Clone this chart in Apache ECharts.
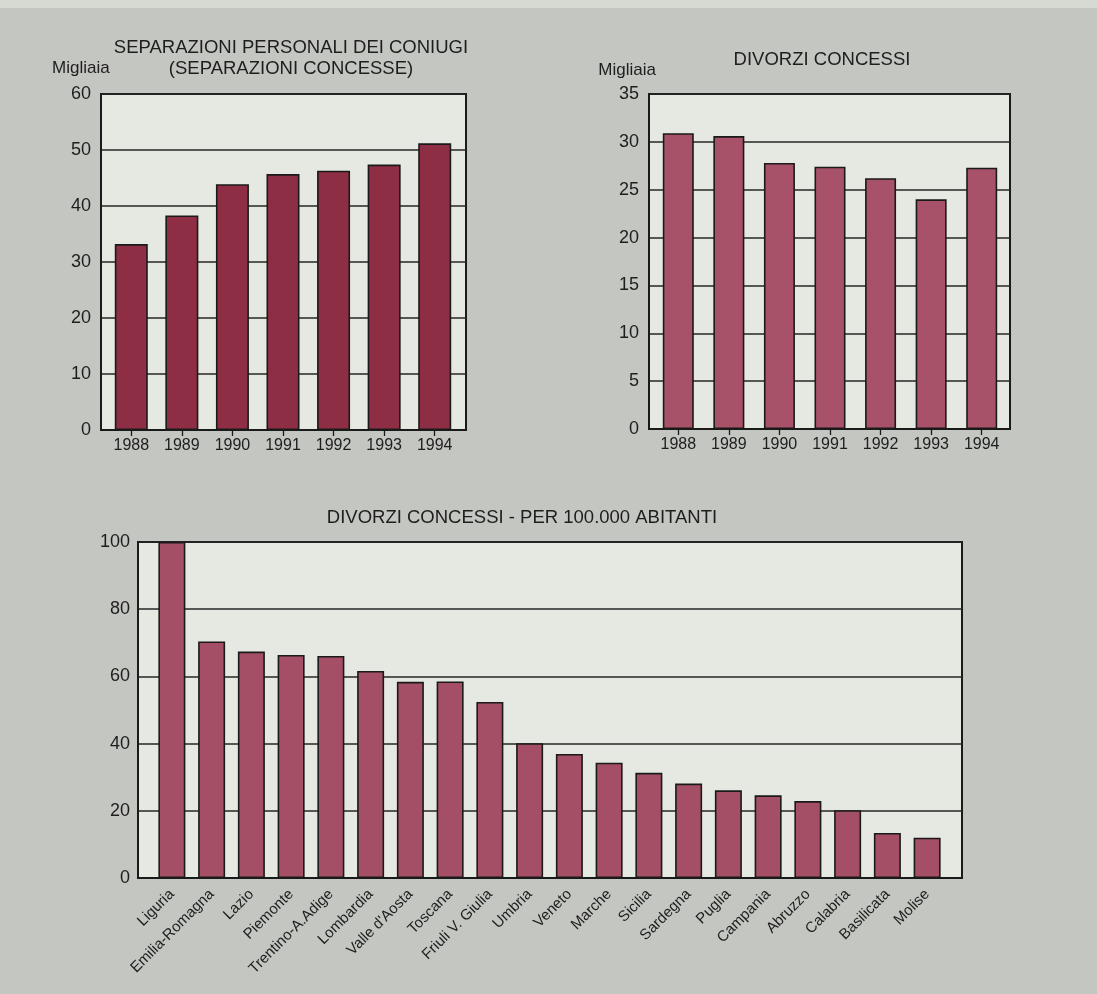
<!DOCTYPE html>
<html>
<head>
<meta charset="utf-8">
<script src="https://cdn.jsdelivr.net/npm/echarts@6/dist/echarts.min.js"></script>
<style>
html,body{margin:0;padding:0;background:#c4c6c1;}
#c{width:1097px;height:994px;}
</style>
</head>
<body>
<div id="c"></div>
<script>
const years = ['1988','1989','1990','1991','1992','1993','1994'];
const separazioni = [33.2, 38.3, 43.9, 45.7, 46.3, 47.4, 51.2];
const divorzi = [30.9, 30.6, 27.8, 27.4, 26.2, 24.0, 27.3];
const regioni = ['Liguria','Emilia-Romagna','Lazio','Piemonte','Trentino-A.Adige','Lombardia',"Valle d'Aosta",'Toscana','Friuli V. Giulia','Umbria','Veneto','Marche','Sicilia','Sardegna','Puglia','Campania','Abruzzo','Calabria','Basilicata','Molise'];
const divorziPer100k = [100, 70.4, 67.4, 66.4, 66.1, 61.6, 58.4, 58.5, 52.4, 40.1, 36.9, 34.3, 31.3, 28.1, 26.1, 24.6, 22.9, 20.2, 13.4, 12.0];

const FONT = '"Liberation Sans", Arial, sans-serif';
const TXT = '#1e1e1e';
const PLOTBG = '#e6e9e1';
const LINE = '#1a1a1a';

// Box grids (frame, gridlines, y labels) and inner grids (category bands)
const boxes = [
  {left:101, top:94, width:365, height:336},
  {left:649, top:94, width:361, height:335},
  {left:138, top:542, width:824, height:336}
];
const inners = [
  {left:106, top:94, width:354, height:336},
  {left:653, top:94, width:354, height:335},
  {left:152, top:542, width:795, height:336}
];
const yScales = [[60,10],[35,5],[100,20]];

const grids = [], xAxes = [], yAxes = [];
boxes.forEach((b,i)=>{
  grids.push(Object.assign({show:true, backgroundColor:PLOTBG, borderColor:LINE, borderWidth:2}, b));
  xAxes.push({type:'value', gridIndex:i, min:0, max:1,
    axisLine:{show:true, onZero:false, lineStyle:{color:LINE, width:2}},
    axisTick:{show:false}, axisLabel:{show:false}, splitLine:{show:false}});
  yAxes.push({type:'value', gridIndex:i, min:0, max:yScales[i][0], interval:yScales[i][1],
    axisLine:{show:true, lineStyle:{color:LINE, width:2}},
    axisTick:{show:false},
    axisLabel:{color:TXT, fontFamily:FONT, fontSize:18, margin: i===2 ? 8 : 10},
    splitLine:{show:true, lineStyle:{color:'#262626', width:1.5}}});
});
const catData = [years, years, regioni];
inners.forEach((g,i)=>{
  grids.push(Object.assign({show:false}, g));
  const gi = 3 + i;
  const rot = i===2;
  xAxes.push({type:'category', gridIndex:gi, data:catData[i],
    axisLine:{show:false},
    axisTick:{show:!rot, alignWithLabel:true, length:6, lineStyle:{color:LINE, width:1.3}},
    axisLabel:{color:TXT, fontFamily:FONT, fontSize: rot ? 15 : 16, rotate: rot ? 45 : 0, margin: rot ? 14 : 8, interval:0},
    splitLine:{show:false}});
  yAxes.push({type:'value', gridIndex:gi, min:0, max:yScales[i][0], interval:yScales[i][1], show:false});
});

function barSeries(idx, data, color, width){
  return {type:'bar', xAxisIndex:idx, yAxisIndex:idx, data, barWidth:width,
    itemStyle:{color, borderColor:LINE, borderWidth:1.6}, z:3};
}

const chart = echarts.init(document.getElementById('c'), null, {renderer:'canvas'});
chart.setOption({
  backgroundColor:'#c4c6c1',
  animation:false,
  title:[
    {text:'SEPARAZIONI PERSONALI DEI CONIUGI\n(SEPARAZIONI CONCESSE)', left:286, top:32, textAlign:'center',
     textStyle:{color:TXT, fontFamily:FONT, fontSize:18.5, fontWeight:'normal', lineHeight:21}},
    {text:'DIVORZI CONCESSI', left:817, top:45, textAlign:'center',
     textStyle:{color:TXT, fontFamily:FONT, fontSize:18.5, fontWeight:'normal'}},
    {text:'DIVORZI CONCESSI - PER 100.000 ABITANTI', left:517, top:503, textAlign:'center',
     textStyle:{color:TXT, fontFamily:FONT, fontSize:18.5, fontWeight:'normal'}}
  ],
  graphic:[
    {type:'rect', left:0, top:0, shape:{width:1097, height:8}, style:{fill:'#d7d9d3'}, silent:true},
    {type:'text', left:52, top:60, style:{text:'Migliaia', fill:TXT, font:'17px "Liberation Sans", Arial, sans-serif'}},
    {type:'text', right:1097-656, top:62, style:{text:'Migliaia', fill:TXT, font:'17px "Liberation Sans", Arial, sans-serif'}}
  ],
  grid:grids,
  xAxis:xAxes,
  yAxis:yAxes,
  series:[
    barSeries(3, separazioni, '#8e2e44', 33),
    barSeries(4, divorzi, '#a8526a', 31),
    barSeries(5, divorziPer100k, '#a54f67', 27)
  ]
});
</script>
</body>
</html>
